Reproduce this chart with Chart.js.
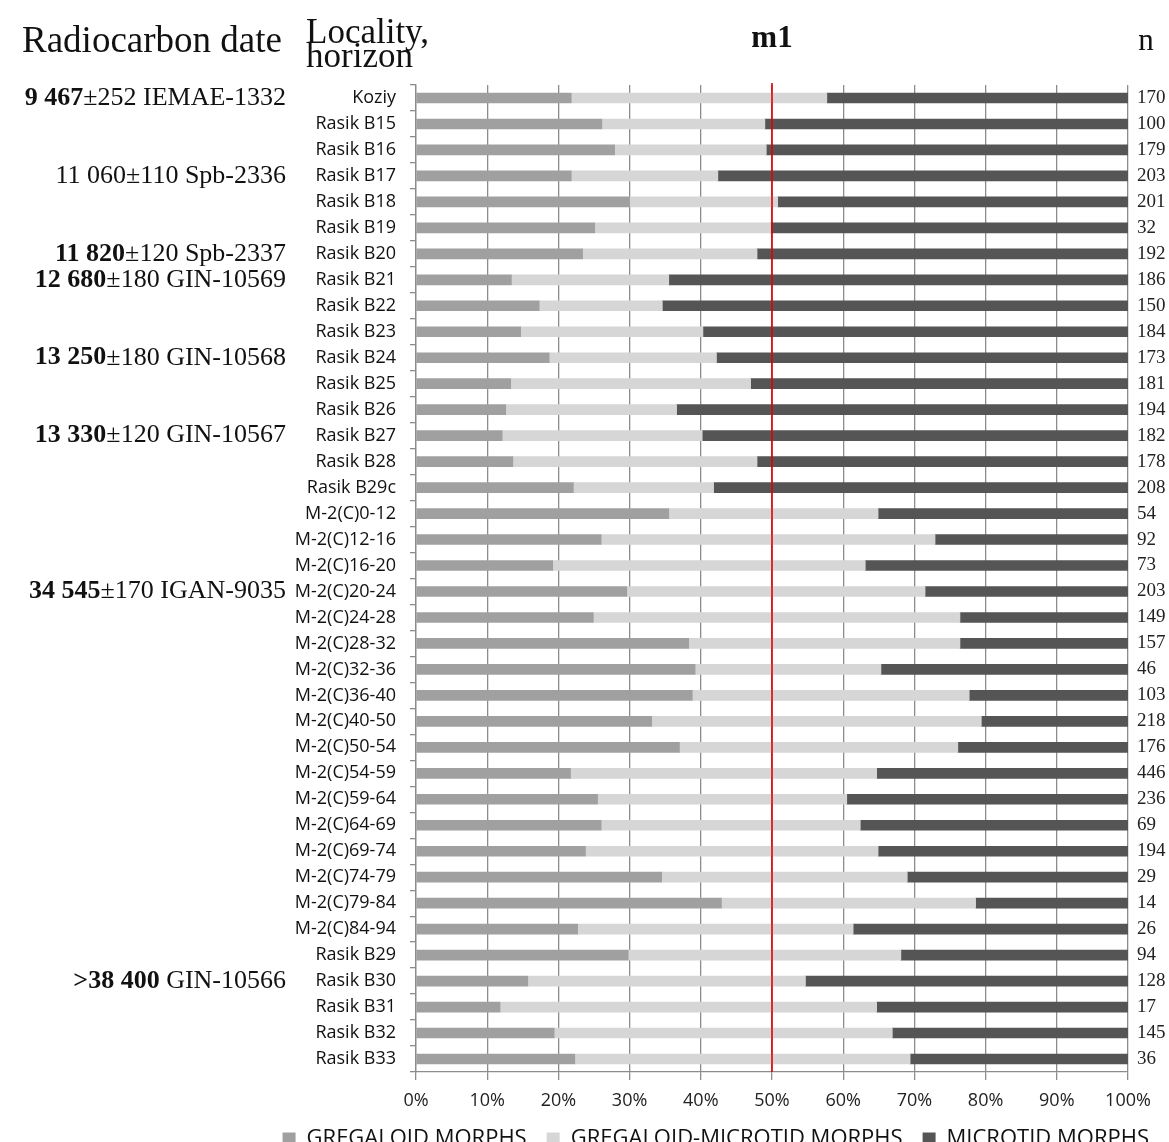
<!DOCTYPE html>
<html>
<head>
<meta charset="utf-8">
<title>m1 morphotypes</title>
<script src="https://cdn.jsdelivr.net/npm/chart.js@4.4.1/dist/chart.umd.min.js"></script>
<style>
  html, body { margin: 0; padding: 0; overflow: hidden; background: #fff; }
  #wrap { width: 1169px; height: 1160px; position: relative; }
</style>
</head>
<body>
<div id="wrap"><canvas id="m1Chart"></canvas></div>
<script>
// Locality / horizon, top to bottom
const localities = [
    'Koziy', 'Rasik B15', 'Rasik B16', 'Rasik B17', 'Rasik B18', 'Rasik B19', 'Rasik B20',
    'Rasik B21', 'Rasik B22', 'Rasik B23', 'Rasik B24', 'Rasik B25', 'Rasik B26', 'Rasik B27',
    'Rasik B28', 'Rasik B29c',
    'M-2(C)0-12', 'M-2(C)12-16', 'M-2(C)16-20', 'M-2(C)20-24', 'M-2(C)24-28', 'M-2(C)28-32',
    'M-2(C)32-36', 'M-2(C)36-40', 'M-2(C)40-50', 'M-2(C)50-54', 'M-2(C)54-59', 'M-2(C)59-64',
    'M-2(C)64-69', 'M-2(C)69-74', 'M-2(C)74-79', 'M-2(C)79-84', 'M-2(C)84-94',
    'Rasik B29', 'Rasik B30', 'Rasik B31', 'Rasik B32', 'Rasik B33'
];

// percentages
const gregaloid = [
    21.8, 26.1, 27.9, 21.8, 30.0, 25.1, 23.4, 13.4, 17.3, 14.7, 18.7, 13.3, 12.6, 12.1, 13.6, 22.1,
    35.5, 26.0, 19.2, 29.6, 24.9, 38.3, 39.2, 38.8, 33.1, 37.0, 21.7, 25.5, 26.0, 23.8, 34.5, 42.9, 22.7,
    29.8, 15.7, 11.8, 19.4, 22.3
];
const gregMicrotid = [
    35.9, 22.9, 21.3, 20.6, 20.8, 24.7, 24.5, 22.1, 17.3, 25.6, 23.5, 33.7, 24.0, 28.1, 34.3, 19.7,
    29.4, 46.9, 43.9, 41.9, 51.5, 38.1, 26.1, 38.9, 46.3, 39.1, 43.0, 35.0, 36.4, 41.1, 34.5, 35.7, 38.7,
    38.3, 39.0, 52.9, 47.5, 47.1
];
const microtid = [
    42.3, 51.0, 50.8, 57.6, 49.2, 50.2, 52.1, 64.5, 65.4, 59.7, 57.8, 53.0, 63.4, 59.8, 52.1, 58.2,
    35.1, 27.1, 36.9, 28.5, 23.6, 23.6, 34.7, 22.3, 20.6, 23.9, 35.3, 39.5, 37.6, 35.1, 31.0, 21.4, 38.6,
    31.9, 45.3, 35.3, 33.1, 30.6
];

// sample size per row
const nValues = [
    170, 100, 179, 203, 201, 32, 192, 186, 150, 184, 173, 181, 194, 182, 178, 208,
    54, 92, 73, 203, 149, 157, 46, 103, 218, 176, 446, 236, 69, 194, 29, 14, 26,
    94, 128, 17, 145, 36
];

// radiocarbon dates: row index, bold part, normal part
const dateRows = [0, 3, 6, 7, 10, 13, 19, 34];
const dateBold = ['9 467', '', '11 820', '12 680', '13 250', '13 330', '34 545', '>38 400'];
const dateRest = ['±252 IEMAE-1332', '11 060±110 Spb-2336', '±120 Spb-2337', '±180 GIN-10569',
    '±180 GIN-10568', '±120 GIN-10567', '±170 IGAN-9035', ' GIN-10566'];

const xTickLabels = ['0%', '10%', '20%', '30%', '40%', '50%', '60%', '70%', '80%', '90%', '100%'];

const serif = '"Liberation Serif", "Times New Roman", serif';
const sans = '"Open Sans", Arial, sans-serif';
const gridGray = '#8c8c8c';

// headers, date column and the red 50% line
const extrasPlugin = {
    id: 'extras',
    afterDatasetsDraw(chart) {
        const { ctx, chartArea, scales } = chart;
        const x50 = scales.x.getPixelForValue(50);
        ctx.save();
        ctx.strokeStyle = '#e00000';
        ctx.lineWidth = 1.6;
        ctx.beginPath();
        ctx.moveTo(x50, chartArea.top - 2);
        ctx.lineTo(x50, chartArea.bottom);
        ctx.stroke();
        ctx.restore();
    },
    afterDraw(chart) {
        const { ctx, scales } = chart;
        const yScale = scales.y;
        ctx.save();
        ctx.fillStyle = '#111';
        ctx.textBaseline = 'middle';
        ctx.textAlign = 'right';
        dateRows.forEach((row, i) => {
            const yPos = yScale.getPixelForValue(row);
            const xRight = 286;
            ctx.font = '26px ' + serif;
            ctx.fillText(dateRest[i], xRight, yPos);
            const w = ctx.measureText(dateRest[i]).width;
            if (dateBold[i]) {
                ctx.font = 'bold 26px ' + serif;
                ctx.fillText(dateBold[i], xRight - w, yPos);
            }
        });

        ctx.textBaseline = 'alphabetic';
        ctx.textAlign = 'left';
        ctx.font = '37px ' + serif;
        ctx.fillText('Radiocarbon date', 22, 52);
        ctx.font = '35px ' + serif;
        ctx.fillText('Locality,', 306, 43);
        ctx.fillText('horizon', 306, 67);
        ctx.textAlign = 'center';
        ctx.font = 'bold 31px ' + serif;
        ctx.fillText('m1', scales.x.getPixelForValue(50), 47);
        ctx.font = '31px ' + serif;
        ctx.fillText('n', 1146, 50);
        ctx.restore();
    }
};

const ctx = document.getElementById('m1Chart').getContext('2d');

new Chart(ctx, {
    type: 'bar',
    data: {
        labels: localities,
        datasets: [{
            label: 'GREGALOID MORPHS',
            data: gregaloid,
            backgroundColor: '#a0a0a0'
        }, {
            label: 'GREGALOID-MICROTID MORPHS',
            data: gregMicrotid,
            backgroundColor: '#d6d6d6'
        }, {
            label: 'MICROTID MORPHS',
            data: microtid,
            backgroundColor: '#555555'
        }]
    },
    options: {
        indexAxis: 'y',
        responsive: true,
        maintainAspectRatio: false,
        animation: false,
        datasets: { bar: { barThickness: 10 } },
        layout: { padding: { top: 85, left: 0, right: 0, bottom: 0 } },
        scales: {
            x: {
                stacked: true,
                min: 0,
                max: 100,
                ticks: {
                    stepSize: 10,
                    callback: (v, i) => xTickLabels[i],
                    font: { family: sans, size: 18 },
                    color: '#222',
                    padding: 10
                },
                grid: { color: gridGray, lineWidth: 1.3, tickLength: 8 },
                border: { color: gridGray, width: 1.3 },
                afterFit: s => { s.height = 36; }
            },
            y: {
                stacked: true,
                ticks: {
                    font: { family: sans, size: 18 },
                    color: '#111',
                    padding: 14,
                    autoSkip: false
                },
                grid: { offset: true, drawOnChartArea: false, tickLength: 6, color: gridGray, lineWidth: 1.3 },
                border: { color: gridGray, width: 1.3 },
                afterFit: s => { s.width = 416; }
            },
            n: {
                type: 'category',
                position: 'right',
                labels: nValues.map(String),
                offset: true,
                grid: { display: false, drawTicks: false },
                border: { display: false },
                ticks: {
                    font: { family: serif, size: 19 },
                    color: '#222',
                    padding: 9,
                    autoSkip: false
                },
                afterFit: s => { s.width = 41; }
            }
        },
        plugins: {
            legend: {
                position: 'bottom',
                align: 'end',
                labels: {
                    boxWidth: 13,
                    boxHeight: 13,
                    padding: 20,
                    font: { family: sans, size: 22 },
                    color: '#111'
                }
            },
            tooltip: { enabled: false }
        }
    },
    plugins: [extrasPlugin]
});
</script>
</body>
</html>
